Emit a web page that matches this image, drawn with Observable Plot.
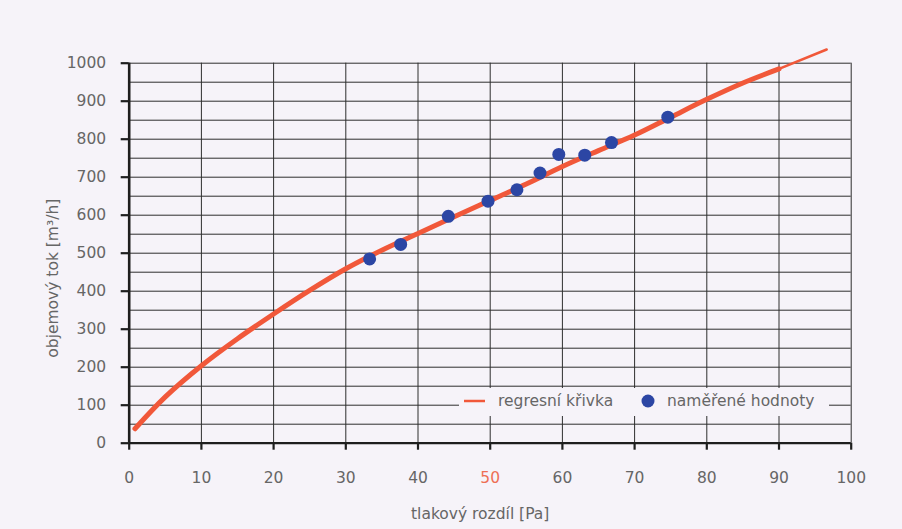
<!DOCTYPE html>
<html>
<head>
<meta charset="utf-8">
<script src="https://cdn.jsdelivr.net/npm/d3@7"></script>
<script src="https://cdn.jsdelivr.net/npm/@observablehq/plot@0.6"></script>
<style>
  html, body { margin: 0; padding: 0; background: #f6f3f9; }
  svg { display: block; }
</style>
</head>
<body>
<div id="chart"></div>
<script>
// ---- data ----
const xTicks = [0, 10, 20, 30, 40, 50, 60, 70, 80, 90, 100];
const yTicks = [0, 100, 200, 300, 400, 500, 600, 700, 800, 900, 1000];
const yGrid  = [0, 50, 100, 150, 200, 250, 300, 350, 400, 450, 500, 550, 600, 650, 700, 750, 800, 850, 900, 950, 1000];
const highlightTick = 50;

// regression curve (thick part)
const curveX = [0.8, 5, 10, 15, 20, 25, 30, 35, 40, 45, 50, 55, 60, 65, 70, 75, 80, 85, 90];
const curveY = [38, 122, 204, 275, 340, 402, 459, 508, 552, 596, 639, 682, 728, 770, 811, 858, 905, 948, 985];
// thin tail of the curve
const tailX = [90, 96.6];
const tailY = [985, 1036];

// measured values
const measX = [33.3, 37.6, 44.2, 49.7, 53.7, 56.9, 59.5, 63.1, 66.8, 74.6];
const measY = [485, 523, 597, 637, 667, 711, 760, 758, 791, 858];

const xLabel = "tlakový rozdíl [Pa]";
const yLabel = "objemový tok [m³/h]";
const legendCurve = "regresní křivka";
const legendPoints = "naměřené hodnoty";

const RED = "#f1583a";
const BLUE = "#2c46a4";
const GREY = "#666666";
const GRID = "#2e2e2e";
const BG = "#f6f3f9";
const FONT = "DejaVu Sans, Verdana, sans-serif";
const FS = 15.5;

const curve = curveX.map((x, i) => ({x, y: curveY[i]}));
const tail = tailX.map((x, i) => ({x, y: tailY[i]}));
const meas = measX.map((x, i) => ({x, y: measY[i]}));

const plot = Plot.plot({
  width: 902,
  height: 529,
  marginLeft: 128.7,
  marginRight: 51.3,
  marginTop: 62.7,
  marginBottom: 86.3,
  style: {background: BG, fontFamily: FONT, fontSize: FS + "px"},
  x: {domain: [0, 100]},
  y: {domain: [0, 1000]},
  marks: [
    Plot.gridX(xTicks, {stroke: GRID, strokeOpacity: 1, strokeWidth: 1}),
    Plot.gridY(yGrid, {stroke: GRID, strokeOpacity: 1, strokeWidth: 1}),
    Plot.axisY(yTicks, {tickSize: 8, tickPadding: 15, fontSize: FS, stroke: "#1e1e1e", strokeWidth: 2.2,
      fill: GREY, label: null, tickFormat: d => String(d)}),
    Plot.axisX(xTicks, {tickSize: 7, stroke: "#1e1e1e", strokeWidth: 2.2, fill: "none", label: null}),
    Plot.text(xTicks, {x: d => d, frameAnchor: "bottom", dy: 40, fontSize: FS,
      fill: d => d === highlightTick ? "#ee6f55" : GREY}),
    Plot.ruleX([0], {stroke: "#1e1e1e", strokeWidth: 2.6}),
    Plot.ruleY([0], {stroke: "#1e1e1e", strokeWidth: 2.2}),
    Plot.text([xLabel], {frameAnchor: "bottom", dx: -10, dy: 76, fontSize: FS, fill: GREY}),
    Plot.text([yLabel], {frameAnchor: "left", textAnchor: "middle", dx: -76, dy: 25, rotate: -90, fontSize: FS, fill: GREY}),
    Plot.line(tail, {x: "x", y: "y", stroke: RED, strokeWidth: 2.6, strokeLinecap: "round"}),
    Plot.line(curve, {x: "x", y: "y", stroke: RED, strokeWidth: 5, curve: "catmull-rom", strokeLinecap: "round"}),
    Plot.dot(meas, {x: "x", y: "y", r: 6.5, fill: BLUE, stroke: "none"})
  ]
});

// legend inside the plot area (bottom right), covering the grid
const svg = d3.select(plot);
const lg = svg.append("g").attr("font-family", FONT).attr("font-size", FS)
  .attr("fill", GREY).attr("text-anchor", "start");
lg.append("rect").attr("x", 459).attr("y", 388).attr("width", 370).attr("height", 28).attr("fill", BG);
lg.append("line").attr("x1", 464).attr("x2", 485).attr("y1", 401).attr("y2", 401)
  .attr("stroke", RED).attr("stroke-width", 2.5);
lg.append("text").attr("x", 498).attr("y", 401).attr("dy", "0.35em").attr("text-anchor", "start").text(legendCurve);
lg.append("circle").attr("cx", 648).attr("cy", 401).attr("r", 6.5).attr("fill", BLUE);
lg.append("text").attr("x", 667).attr("y", 401).attr("dy", "0.35em").attr("text-anchor", "start").text(legendPoints);

document.getElementById("chart").appendChild(plot);
</script>
</body>
</html>
